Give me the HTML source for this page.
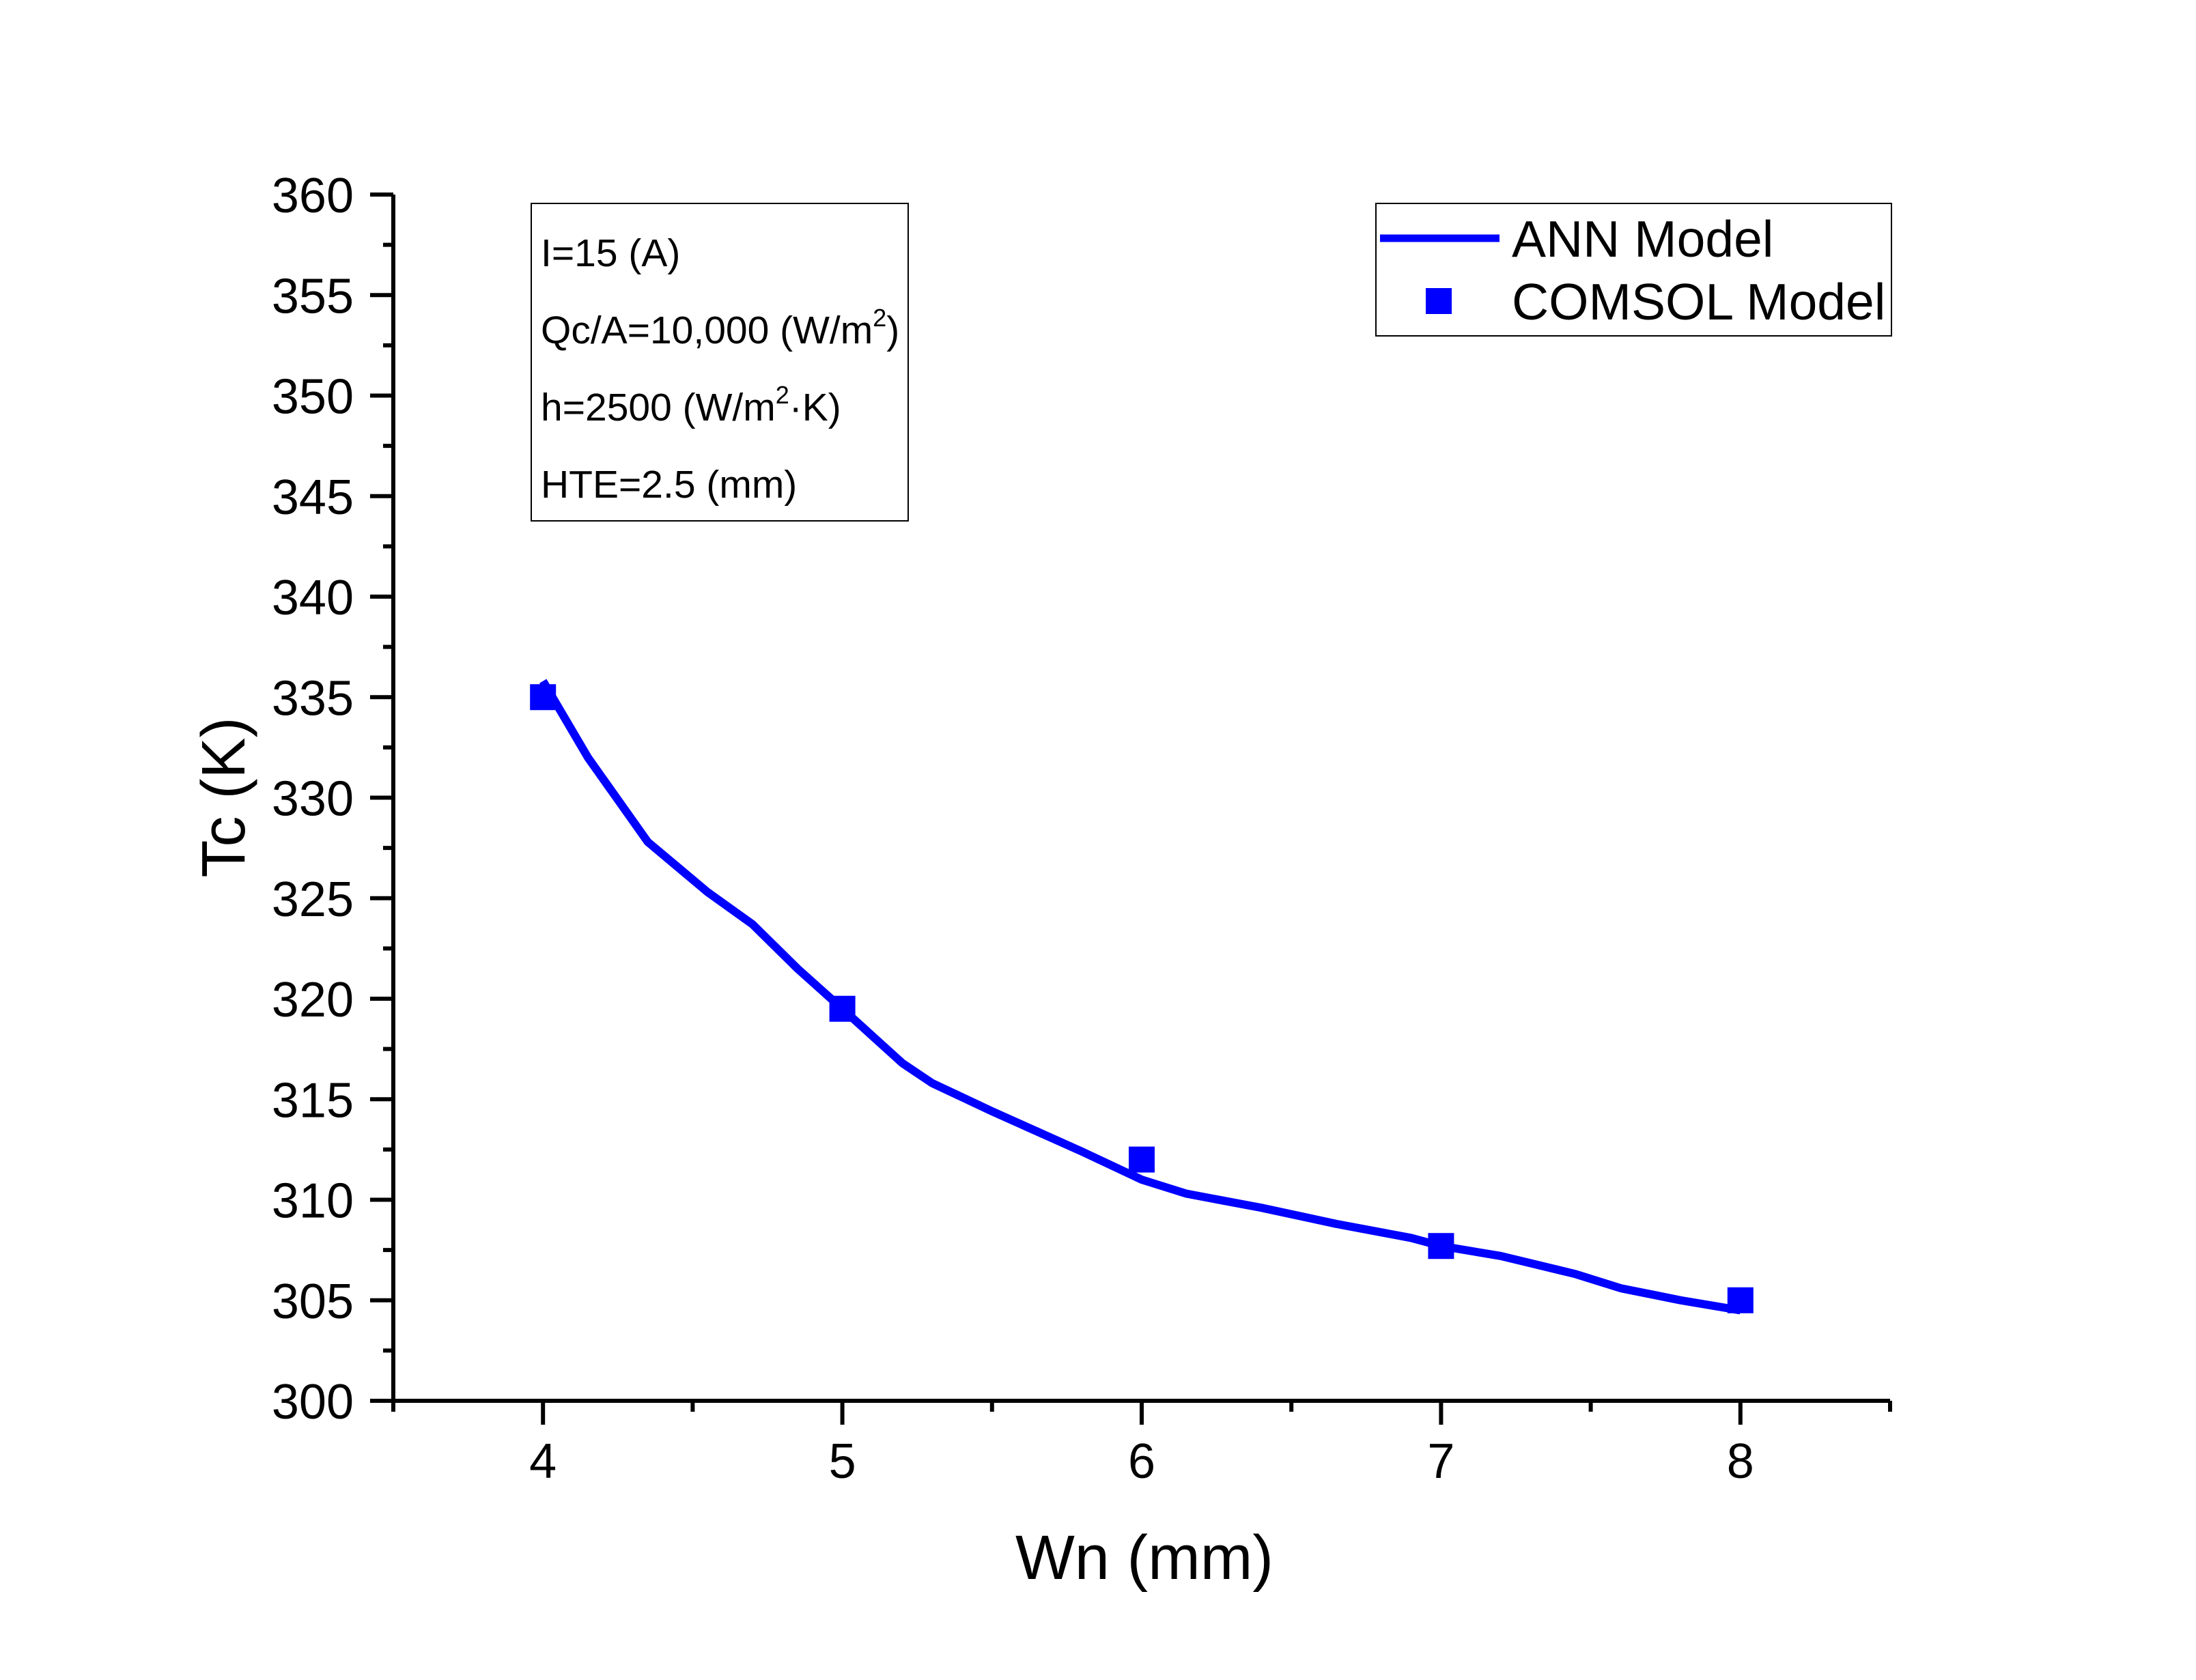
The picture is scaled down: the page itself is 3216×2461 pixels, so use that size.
<!DOCTYPE html>
<html><head><meta charset="utf-8"><style>
html,body{margin:0;padding:0;background:#fff}
svg{display:block;font-family:"Liberation Sans",sans-serif}
</style></head><body>
<svg id="chart" width="3216" height="2461" viewBox="0 0 3216 2461">
<g id="axes"></g>
<g id="series"></g>
<g font-size="57">
<rect x="778" y="298" width="552" height="465" fill="none" stroke="#000" stroke-width="2"/>
<text x="792" y="390">I=15 (A)</text>
<text x="792" y="503">Qc/A=10,000 (W/m<tspan font-size="36" dy="-25">2</tspan><tspan dy="25">)</tspan></text>
<text x="792" y="616">h=2500 (W/m<tspan font-size="36" dy="-25">2</tspan><tspan dy="25">·K)</tspan></text>
<text x="792" y="729">HTE=2.5 (mm)</text>
</g>
<g font-size="75">
<rect x="2015" y="298" width="755" height="194" fill="none" stroke="#000" stroke-width="2"/>
<line x1="2021" y1="349" x2="2196" y2="349" stroke="#0000ff" stroke-width="11"/>
<text x="2214" y="376">ANN Model</text>
<rect x="2088" y="422" width="38" height="38" fill="#0000ff"/>
<text x="2214" y="468">COMSOL Model</text>
</g>
<text x="1676" y="2313" font-size="92" text-anchor="middle">Wn (mm)</text>
<text transform="translate(358,1168) rotate(-90)" font-size="90" text-anchor="middle">Tc (K)</text>
</svg>
<script>
const xTicks=[4,5,6,7,8];
const yTicks=[300,305,310,315,320,325,330,335,340,345,350,355,360];
const comsolX=[4,5,6,7,8];
const comsolY=[335,319.5,312,307.7,305];
const annX=[4,4.15,4.35,4.55,4.7,4.85,5,5.2,5.3,5.5,5.8,6,6.15,6.4,6.65,6.9,7,7.2,7.45,7.6,7.8,8];
const annY=[335.8,332,327.8,325.3,323.7,321.5,319.5,316.8,315.8,314.4,312.4,311,310.3,309.6,308.8,308.1,307.7,307.2,306.3,305.6,305,304.5];
const X0=576,X1=2768,XMIN=3.5,XMAX=8.5,Y0=2052,Y1=285,YMIN=300,YMAX=360;
const sx=v=>X0+(v-XMIN)/(XMAX-XMIN)*(X1-X0);
const sy=v=>Y0-(v-YMIN)/(YMAX-YMIN)*(Y0-Y1);
const NS="http://www.w3.org/2000/svg";
const axes=document.getElementById('axes'),ser=document.getElementById('series');
function mk(t,a,p){const e=document.createElementNS(NS,t);for(const k in a)e.setAttribute(k,a[k]);p.appendChild(e);return e;}
let e=mk('line',{x1:X0,y1:Y0,x2:X1,y2:Y0,stroke:'#000','stroke-width':6},axes);


e=mk('line',{x1:X0,y1:Y0+3,x2:X0,y2:Y1,stroke:'#000','stroke-width':6},axes);


for(let v=3.5;v<=8.51;v+=0.5){const maj=xTicks.includes(v);
 e=mk('line',{x1:sx(v),y1:Y0,x2:sx(v),y2:Y0+(maj?35:16),stroke:'#000','stroke-width':6},axes);
 
 }
xTicks.forEach(v=>{e=mk('text',{x:sx(v),y:2165,'font-size':72,'text-anchor':'middle'},axes);e.textContent=v;
 
 });
for(let v=300;v<=360;v+=2.5){const maj=v%5===0;
 e=mk('line',{x1:X0,y1:sy(v),x2:X0-(maj?34:15),y2:sy(v),stroke:'#000','stroke-width':6},axes);
 
 }
yTicks.forEach(v=>{e=mk('text',{x:518,y:sy(v)+26,'font-size':72,'text-anchor':'end'},axes);e.textContent=v;
 
 });
e=mk('polyline',{points:annX.map((x,i)=>sx(x)+','+sy(annY[i])).join(' '),fill:'none',stroke:'#0000ff','stroke-width':12,'stroke-linejoin':'round'},ser);


comsolX.forEach((x,i)=>{e=mk('rect',{x:sx(x)-19,y:sy(comsolY[i])-19,width:38,height:38,fill:'#0000ff'},ser);
 
 });
</script>
</body></html>
